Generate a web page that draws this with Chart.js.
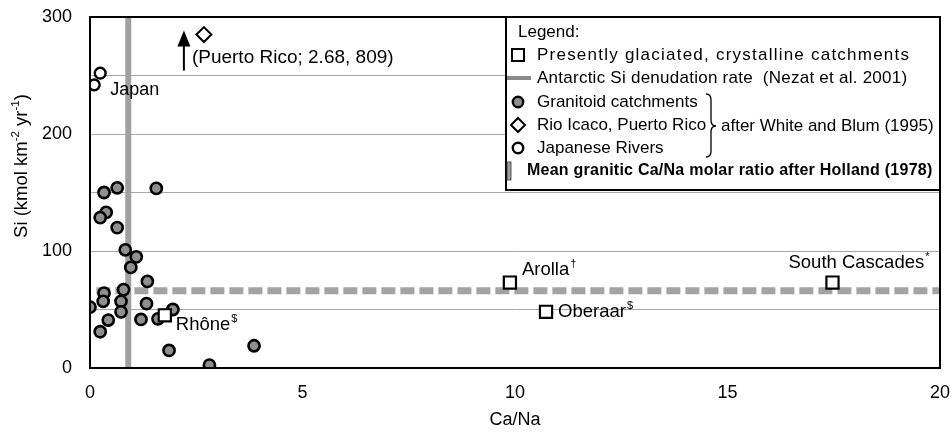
<!DOCTYPE html>
<html>
<head>
<meta charset="utf-8">
<script src="https://cdn.jsdelivr.net/npm/chart.js@4.4.1/dist/chart.umd.min.js"></script>
<style>
  html, body { margin: 0; padding: 0; background: #fff; }
  #wrap { width: 951px; height: 435px; position: relative; }
</style>
</head>
<body>
<div id="wrap"><canvas id="c"></canvas></div>
<script>
// Granitoid catchments (White and Blum, 1995)
const granitoidCaNa = [0.33, 0.64, 1.56, 0.38, 0.24, 0.64, 0.83, 1.09, 0.96, 1.35, 0.79, 0.33, 0.31,
                       0.73, 1.33, 0.0, 0.73, 0.43, 0.24, 1.2, 1.6, 1.95, 1.86, 2.81, 3.86];
const granitoidSi   = [150, 154, 153.5, 133, 128.5, 120, 101, 95, 86, 74, 67, 64, 57,
                       57, 55, 52, 48, 41, 31, 41.5, 42, 50, 15, 2.5, 19];

// Japanese rivers
const japanCaNa = [0.1, 0.24];
const japanSi   = [242, 252];

// Rio Icaco, Puerto Rico (Si lies above the axis range)
const puertoRicoCaNa = [2.68];
const puertoRicoSi   = [809];

// Presently glaciated, crystalline catchments
const glacierNames = ['Rhône', 'Arolla', 'Oberaar', 'South Cascades'];
const glacierMarks = ['$', '†', '$', '*'];
const glacierCaNa  = [1.76, 9.88, 10.73, 17.47];
const glacierSi    = [45, 73, 48, 73];

// Antarctic Si denudation rate (Nezat et al. 2001)
const antarcticSi = [66];
const antarcticCaNaSpan = [0.15, 20];

// Mean granitic Ca/Na molar ratio (Holland 1978)
const hollandCaNa = [0.9];

// Axes
const xTickLabels = [0, 5, 10, 15, 20];
const yTickLabels = [0, 100, 200, 300];

const X_MIN = 0, X_MAX = 20, Y_MIN = 0, Y_MAX = 300;
const FONT = '"Liberation Sans", Arial, Helvetica, sans-serif';

// off-scale values are pinned just below the top of the axis
const shownSi = v => Math.min(v, Y_MAX - 15);

const zip = (xs, ys) => xs.map((x, i) => ({ x: x, y: ys[i] }));

const datasets = [
  {
    label: 'Granitoid catchments',
    data: zip(granitoidCaNa, granitoidSi),
    pointStyle: 'circle', pointRadius: 5.6, pointBorderWidth: 2.6,
    backgroundColor: '#8f8f8f', borderColor: '#000', showLine: false, order: 1
  },
  {
    label: 'Japanese Rivers',
    data: zip(japanCaNa, japanSi),
    pointStyle: 'circle', pointRadius: 5.4, pointBorderWidth: 2.4,
    backgroundColor: '#fff', borderColor: '#000', showLine: false, order: 1
  },
  {
    label: 'Rio Icaco, Puerto Rico',
    data: puertoRicoCaNa.map((x, i) => ({ x: x, y: shownSi(puertoRicoSi[i]) })),
    pointStyle: 'rectRot', pointRadius: 7.5, pointBorderWidth: 2,
    backgroundColor: '#fff', borderColor: '#000', showLine: false, order: 1
  },
  {
    label: 'Presently glaciated, crystalline catchments',
    data: zip(glacierCaNa, glacierSi),
    pointStyle: 'rect', pointRadius: 8.6, pointBorderWidth: 2.2,
    backgroundColor: '#fff', borderColor: '#000', showLine: false, order: 0
  },
  {
    label: 'Antarctic Si denudation rate',
    type: 'line',
    data: antarcticCaNaSpan.map(x => ({ x: x, y: antarcticSi[0] })),
    borderColor: '#a3a3a3', borderWidth: 7, borderDash: [14, 5],
    pointRadius: 0, borderCapStyle: 'butt', order: 2
  },
  {
    label: 'Mean granitic Ca/Na',
    type: 'line',
    data: [{ x: hollandCaNa[0], y: Y_MIN }, { x: hollandCaNa[0], y: Y_MAX }],
    borderColor: '#a0a0a0', borderWidth: 6,
    pointRadius: 0, borderCapStyle: 'butt', order: 3
  }
];

// draws a line of text stretched by letter spacing so it ends at `right`
function fitText(ctx, text, x, y, right) {
  ctx.letterSpacing = '0px';
  const w = ctx.measureText(text).width;
  const extra = Math.max(0, (right - x - w) / Math.max(1, text.length - 1));
  ctx.letterSpacing = extra.toFixed(2) + 'px';
  ctx.fillText(text, x, y);
  ctx.letterSpacing = '0px';
}

function textWithSup(ctx, text, sup, x, y, size) {
  ctx.font = size + 'px ' + FONT;
  ctx.textAlign = 'left';
  ctx.textBaseline = 'middle';
  ctx.fillText(text, x, y);
  const w = ctx.measureText(text).width;
  ctx.font = Math.round(size * 0.62) + 'px ' + FONT;
  ctx.fillText(sup, x + w + 1, y - size * 0.32);
}

const annotations = {
  id: 'annotations',
  afterDatasetsDraw(chart) {
    const ctx = chart.ctx;
    const xs = chart.scales.x, ys = chart.scales.y;
    const area = chart.chartArea;
    ctx.save();
    ctx.fillStyle = '#000';

    // plot frame
    ctx.strokeStyle = '#000';
    ctx.lineWidth = 2;
    ctx.strokeRect(area.left, area.top, area.right - area.left, area.bottom - area.top);

    // Japan label
    const jx = xs.getPixelForValue(japanCaNa[1]), jy = ys.getPixelForValue(japanSi[1]);
    ctx.font = '18px ' + FONT;
    ctx.textAlign = 'left'; ctx.textBaseline = 'middle';
    ctx.fillText('Japan', jx + 10, jy + 17);

    // Puerto Rico: off-scale arrow and label
    const px = xs.getPixelForValue(puertoRicoCaNa[0]);
    const py = ys.getPixelForValue(shownSi(puertoRicoSi[0]));
    const ax = px - 20;
    ctx.lineWidth = 2;
    ctx.beginPath();
    ctx.moveTo(ax, py + 36);
    ctx.lineTo(ax, py + 8);
    ctx.stroke();
    ctx.beginPath();
    ctx.moveTo(ax, py - 4);
    ctx.lineTo(ax - 6.5, py + 12);
    ctx.lineTo(ax + 6.5, py + 12);
    ctx.closePath();
    ctx.fill();
    ctx.font = '19px ' + FONT;
    ctx.fillText('(Puerto Rico; ' + puertoRicoCaNa[0].toFixed(2) + ', ' + puertoRicoSi[0] + ')', px - 12, py + 23);

    // glacier labels
    const offs = [[11, 10], [12, -13], [12, 0], [-44, -20]];
    glacierNames.forEach((name, i) => {
      const gx = xs.getPixelForValue(glacierCaNa[i]);
      const gy = ys.getPixelForValue(glacierSi[i]);
      textWithSup(ctx, name, glacierMarks[i], gx + offs[i][0], gy + offs[i][1], 18.5);
    });

    // y axis title with superscripts
    ctx.save();
    ctx.translate(22, 166);
    ctx.rotate(-Math.PI / 2);
    const parts = [['Si (kmol km', 0], ['-2', 1], [' yr', 0], ['-1', 1], [')', 0]];
    const main = 18.5, small = 11.5;
    let total = 0;
    parts.forEach(p => { ctx.font = (p[1] ? small : main) + 'px ' + FONT; total += ctx.measureText(p[0]).width; });
    let cx = -total / 2;
    ctx.textAlign = 'left'; ctx.textBaseline = 'middle';
    parts.forEach(p => {
      ctx.font = (p[1] ? small : main) + 'px ' + FONT;
      ctx.fillText(p[0], cx, p[1] ? -6 : 0);
      cx += ctx.measureText(p[0]).width;
    });
    ctx.restore();

    // legend box
    const L = 506, T = area.top, R = area.right, B = 190;
    ctx.fillStyle = '#fff';
    ctx.fillRect(L, T, R - L, B - T);
    ctx.strokeStyle = '#000';
    ctx.lineWidth = 2;
    ctx.strokeRect(L, T, R - L, B - T);

    ctx.fillStyle = '#000';
    ctx.font = '17px ' + FONT;
    ctx.textAlign = 'left'; ctx.textBaseline = 'middle';
    const ix = 518, tx = 537;
    const rows = [32, 55, 78, 102, 125, 148, 171];
    ctx.fillText('Legend:', 518, rows[0]);

    // square
    ctx.lineWidth = 2;
    ctx.strokeRect(ix - 6, rows[1] - 6, 12, 12);
    fitText(ctx, 'Presently glaciated, crystalline catchments', tx, rows[1], 909);

    // dashed grey line
    ctx.strokeStyle = '#8a8a8a';
    ctx.lineWidth = 4;
    ctx.beginPath(); ctx.moveTo(507, rows[2]); ctx.lineTo(531, rows[2]); ctx.stroke();
    fitText(ctx, 'Antarctic Si denudation rate  (Nezat et al. 2001)', tx, rows[2], 907);

    // granitoid circle
    ctx.strokeStyle = '#000';
    ctx.lineWidth = 2.4;
    ctx.beginPath(); ctx.arc(ix, rows[3], 5.2, 0, Math.PI * 2);
    ctx.fillStyle = '#8f8f8f'; ctx.fill(); ctx.stroke();
    ctx.fillStyle = '#000';
    ctx.fillText('Granitoid catchments', tx, rows[3]);

    // diamond
    ctx.lineWidth = 2;
    ctx.beginPath();
    ctx.moveTo(ix, rows[4] - 7); ctx.lineTo(ix + 7, rows[4]); ctx.lineTo(ix, rows[4] + 7); ctx.lineTo(ix - 7, rows[4]);
    ctx.closePath(); ctx.stroke();
    ctx.fillText('Rio Icaco, Puerto Rico', tx, rows[4]);

    // open circle
    ctx.lineWidth = 2.4;
    ctx.beginPath(); ctx.arc(ix, rows[5], 5.2, 0, Math.PI * 2); ctx.stroke();
    ctx.fillText('Japanese Rivers', tx, rows[5]);

    // brace
    const bx = 706, bt = 94, bb = 157, bm = 126;
    ctx.lineWidth = 1.3;
    ctx.beginPath();
    ctx.moveTo(bx, bt);
    ctx.quadraticCurveTo(bx + 5, bt, bx + 5, bt + 6);
    ctx.lineTo(bx + 5, bm - 6);
    ctx.quadraticCurveTo(bx + 5, bm, bx + 10, bm);
    ctx.quadraticCurveTo(bx + 5, bm, bx + 5, bm + 6);
    ctx.lineTo(bx + 5, bb - 6);
    ctx.quadraticCurveTo(bx + 5, bb, bx, bb);
    ctx.stroke();
    ctx.fillText('after White and Blum (1995)', 721, bm);

    // grey bar
    ctx.fillStyle = '#a0a0a0';
    ctx.fillRect(507, rows[6] - 9, 4, 18);
    ctx.strokeStyle = '#333';
    ctx.lineWidth = 0.8;
    ctx.strokeRect(507, rows[6] - 9, 4, 18);
    ctx.fillStyle = '#000';
    ctx.font = 'bold 16px ' + FONT;
    fitText(ctx, 'Mean granitic Ca/Na molar ratio after Holland (1978)', 527, rows[6], 932);

    ctx.restore();
  }
};

new Chart(document.getElementById('c'), {
  type: 'scatter',
  data: { datasets: datasets },
  plugins: [annotations],
  options: {
    responsive: true,
    maintainAspectRatio: false,
    animation: false,
    layout: { padding: { top: 17, right: 11, left: 0, bottom: 0 } },
    plugins: { legend: { display: false }, tooltip: { enabled: false } },
    elements: { line: { tension: 0 } },
    scales: {
      x: {
        type: 'linear', min: X_MIN, max: X_MAX,
        afterFit: s => { s.height = 67; s.paddingLeft = 0; s.paddingRight = 0; },
        afterBuildTicks: s => { s.ticks = xTickLabels.map(v => ({ value: v })); },
        grid: { display: false, drawTicks: false },
        border: { display: true, color: '#000', width: 2 },
        ticks: { padding: 14, color: '#000', font: { family: FONT, size: 18 } },
        title: { display: true, text: 'Ca/Na', color: '#000', font: { family: FONT, size: 18 }, padding: { top: 0, bottom: 4 } }
      },
      y: {
        type: 'linear', min: Y_MIN, max: Y_MAX,
        afterFit: s => { s.width = 90; s.paddingTop = 0; s.paddingBottom = 0; },
        ticks: {
          stepSize: 50, padding: 18, color: '#000', font: { family: FONT, size: 18 },
          callback: v => (yTickLabels.includes(v) ? String(v) : '')
        },
        grid: { drawTicks: false, color: '#a8a8a8', lineWidth: 1 },
        border: { display: true, color: '#000', width: 2 }
      }
    }
  }
});
</script>
</body>
</html>
